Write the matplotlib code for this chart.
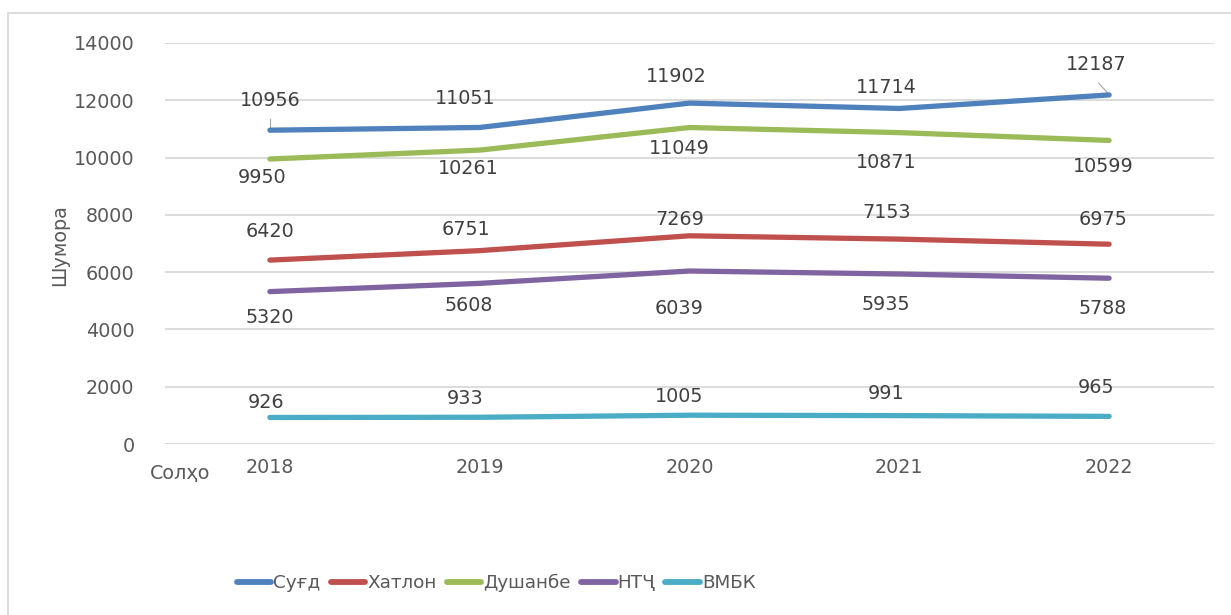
import matplotlib.pyplot as plt
from matplotlib.patches import Rectangle

# data
years = ['2018', '2019', '2020', '2021', '2022']
sughd = [10956, 11051, 11902, 11714, 12187]
khatlon = [6420, 6751, 7269, 7153, 6975]
dushanbe = [9950, 10261, 11049, 10871, 10599]
ntch = [5320, 5608, 6039, 5935, 5788]
vmbk = [926, 933, 1005, 991, 965]
names = ['Суғд', 'Хатлон', 'Душанбе', 'НТҶ', 'ВМБК']

colors = ['#4F81BD', '#C0504D', '#9BBB59', '#8064A2', '#4BACC6']

# label offsets in pixels (dx, dy) per point
offsets = [
    [(0, 30), (-15, 29), (-13, 27), (-13, 21), (-13, 30)],
    [(0, 29), (-14, 21), (-10, 16), (-13, 27), (-6, 25)],
    [(-8, -18), (-11, -18), (-10, -21), (-13, -30), (-6, -26)],
    [(0, -26), (-11, -22), (-10, -37), (-13, -30), (-6, -30)],
    [(-4, 15), (-15, 19), (-10, 19), (-13, 22), (-13, 29)],
]

series = [sughd, khatlon, dushanbe, ntch, vmbk]

plt.rcParams['font.family'] = 'DejaVu Sans'
fs = 13.8
tick_col = '#595959'
lab_col = '#404040'

fig = plt.figure(figsize=(12.31, 6.15), dpi=100)
ax = fig.add_axes([165 / 1231, 1 - 444 / 615, (1214 - 165) / 1231, (444 - 43) / 615])

x = list(range(len(years)))
for vals, name, c, offs in zip(series, names, colors, offsets):
    ax.plot(x, vals, color=c, lw=3.8, solid_capstyle='round', label=name, zorder=3)
    for xi, v, (dx, dy) in zip(x, vals, offs):
        ax.annotate(str(v), (xi, v), xytext=(dx, dy), textcoords='offset pixels',
                    ha='center', va='center', fontsize=fs, color=lab_col, zorder=4)

# small leader lines
ax.plot([0, 0], [10956, 11350], color='#A6A6A6', lw=0.8, zorder=2)
ax.plot([3.95, 4.0], [12600, 12200], color='#A6A6A6', lw=0.8, zorder=2)

ax.set_xlim(-0.5, 4.5)
ax.set_ylim(0, 14000)
ax.set_yticks(range(0, 14001, 2000))
ax.set_xticks(x)
ax.set_xticklabels(years)
ax.grid(axis='y', color='#D9D9D9', lw=1.3)
ax.set_axisbelow(True)
for s in ax.spines.values():
    s.set_visible(False)
ax.tick_params(length=0, labelsize=fs, colors=tick_col, pad=10)
ax.tick_params(axis='y', pad=22)

fig.text(60 / 1231, 1 - 245 / 615, 'Шумора', rotation=90, ha='center', va='center',
         fontsize=fs, color=tick_col)
fig.text(180 / 1231, 1 - 473 / 615, 'Солҳо', ha='center', va='center',
         fontsize=fs, color=tick_col)

leg = fig.legend(loc='center', bbox_to_anchor=(496 / 1231, 1 - 583 / 615), ncol=5,
                 frameon=False, fontsize=fs - 0.6,
                 handlelength=1.9, handletextpad=0.1, columnspacing=0.55)
for t in leg.get_texts():
    t.set_color(tick_col)
for h in leg.get_lines():
    h.set_linewidth(4.2)
    h.set_solid_capstyle('round')

# chart border (cropped at right and bottom)
fig.patches.append(Rectangle((8 / 1231, -0.2), 2, 1.2 - 13 / 615, transform=fig.transFigure,
                             fill=False, edgecolor='#D9D9D9', lw=1.3))

fig.savefig('out.png', dpi=100)
